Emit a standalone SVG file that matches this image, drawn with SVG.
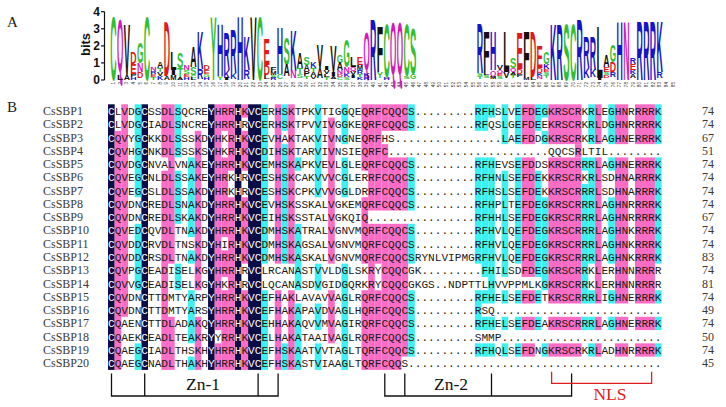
<svg xmlns="http://www.w3.org/2000/svg" width="726" height="407" viewBox="0 0 726 407">
<style>
.lbl{font-family:"Liberation Serif","Times New Roman",serif;fill:#222}
.lg{font-family:"Liberation Sans",Arial,sans-serif;font-weight:bold;font-size:10px}
.g{fill:#2fbf2f}.m{fill:#d616b8}.b{fill:#1414c8}.r{fill:#e01818}.k{fill:#111}
.ax{font-family:"Liberation Sans",Arial,sans-serif;font-weight:bold;fill:#111}
.tk{font-family:"Liberation Sans",Arial,sans-serif;font-size:4.6px;fill:#333}
.n{fill:#0c0c46}.p{fill:#fb6dc4}.c{fill:#3ef0f0}
.seq{font-family:"Liberation Mono","Courier New",monospace;font-size:11.11px;fill:#1a1a1a}
.w{fill:#fff}
.nm{font-family:"Liberation Serif","Times New Roman",serif;font-size:12px;fill:#3a3a3a}
.br{fill:none;stroke:#111;stroke-width:1.3}
.brr{fill:none;stroke:#e02020;stroke-width:1.3}
.big{font-family:"Liberation Serif","Times New Roman",serif;font-size:17.5px}
</style>
<rect width="726" height="407" fill="#fff"/>
<text class="lbl" x="7" y="27" font-size="15">A</text>
<text class="lbl" x="7" y="112" font-size="15">B</text>

<g id="logo-axis">
<line x1="104.5" y1="11.7" x2="104.5" y2="80" stroke="#111" stroke-width="1.2"/>
<line x1="101" y1="11.7" x2="104.5" y2="11.7" stroke="#111" stroke-width="1.2"/>
<line x1="101" y1="28.8" x2="104.5" y2="28.8" stroke="#111" stroke-width="1.2"/>
<line x1="101" y1="45.9" x2="104.5" y2="45.9" stroke="#111" stroke-width="1.2"/>
<line x1="101" y1="62.9" x2="104.5" y2="62.9" stroke="#111" stroke-width="1.2"/>
<line x1="101" y1="80" x2="104.5" y2="80" stroke="#111" stroke-width="1.2"/>
<text class="ax" font-size="12" text-anchor="end" x="100" y="16">4</text>
<text class="ax" font-size="12" text-anchor="end" x="100" y="33">3</text>
<text class="ax" font-size="12" text-anchor="end" x="100" y="50">2</text>
<text class="ax" font-size="12" text-anchor="end" x="100" y="67">1</text>
<text class="ax" font-size="12" text-anchor="end" x="100" y="84">0</text>
<text class="ax" font-size="13" text-anchor="middle" transform="translate(89.5,44.5) rotate(-90)">bits</text>
</g>

<g id="logo-ticks" class="tk" text-anchor="end">
<text transform="translate(115.1,82) rotate(-90)">1</text><text transform="translate(121.76,82) rotate(-90)">2</text><text transform="translate(128.42,82) rotate(-90)">3</text><text transform="translate(135.08,82) rotate(-90)">4</text><text transform="translate(141.74,82) rotate(-90)">5</text><text transform="translate(148.4,82) rotate(-90)">6</text><text transform="translate(155.06,82) rotate(-90)">7</text><text transform="translate(161.72,82) rotate(-90)">8</text><text transform="translate(168.38,82) rotate(-90)">9</text><text transform="translate(175.04,82) rotate(-90)">10</text>
<text transform="translate(181.7,82) rotate(-90)">11</text><text transform="translate(188.36,82) rotate(-90)">12</text><text transform="translate(195.02,82) rotate(-90)">13</text><text transform="translate(201.68,82) rotate(-90)">14</text><text transform="translate(208.34,82) rotate(-90)">15</text><text transform="translate(215,82) rotate(-90)">16</text><text transform="translate(221.66,82) rotate(-90)">17</text><text transform="translate(228.32,82) rotate(-90)">18</text><text transform="translate(234.98,82) rotate(-90)">19</text><text transform="translate(241.64,82) rotate(-90)">20</text>
<text transform="translate(248.3,82) rotate(-90)">21</text><text transform="translate(254.96,82) rotate(-90)">22</text><text transform="translate(261.62,82) rotate(-90)">23</text><text transform="translate(268.28,82) rotate(-90)">24</text><text transform="translate(274.94,82) rotate(-90)">25</text><text transform="translate(281.6,82) rotate(-90)">26</text><text transform="translate(288.26,82) rotate(-90)">27</text><text transform="translate(294.92,82) rotate(-90)">28</text><text transform="translate(301.58,82) rotate(-90)">29</text><text transform="translate(308.24,82) rotate(-90)">30</text>
<text transform="translate(314.9,82) rotate(-90)">31</text><text transform="translate(321.56,82) rotate(-90)">32</text><text transform="translate(328.22,82) rotate(-90)">33</text><text transform="translate(334.88,82) rotate(-90)">34</text><text transform="translate(341.54,82) rotate(-90)">35</text><text transform="translate(348.2,82) rotate(-90)">36</text><text transform="translate(354.86,82) rotate(-90)">37</text><text transform="translate(361.52,82) rotate(-90)">38</text><text transform="translate(368.18,82) rotate(-90)">39</text><text transform="translate(374.84,82) rotate(-90)">40</text>
<text transform="translate(381.5,82) rotate(-90)">41</text><text transform="translate(388.16,82) rotate(-90)">42</text><text transform="translate(394.82,82) rotate(-90)">43</text><text transform="translate(401.48,82) rotate(-90)">44</text><text transform="translate(408.14,82) rotate(-90)">45</text><text transform="translate(414.8,82) rotate(-90)">46</text><text transform="translate(421.46,82) rotate(-90)">47</text><text transform="translate(428.12,82) rotate(-90)">48</text><text transform="translate(434.78,82) rotate(-90)">49</text><text transform="translate(441.44,82) rotate(-90)">50</text>
<text transform="translate(448.1,82) rotate(-90)">51</text><text transform="translate(454.76,82) rotate(-90)">52</text><text transform="translate(461.42,82) rotate(-90)">53</text><text transform="translate(468.08,82) rotate(-90)">54</text><text transform="translate(474.74,82) rotate(-90)">55</text><text transform="translate(481.4,82) rotate(-90)">56</text><text transform="translate(488.06,82) rotate(-90)">57</text><text transform="translate(494.72,82) rotate(-90)">58</text><text transform="translate(501.38,82) rotate(-90)">59</text><text transform="translate(508.04,82) rotate(-90)">60</text>
<text transform="translate(514.7,82) rotate(-90)">61</text><text transform="translate(521.36,82) rotate(-90)">62</text><text transform="translate(528.02,82) rotate(-90)">63</text><text transform="translate(534.68,82) rotate(-90)">64</text><text transform="translate(541.34,82) rotate(-90)">65</text><text transform="translate(548,82) rotate(-90)">66</text><text transform="translate(554.66,82) rotate(-90)">67</text><text transform="translate(561.32,82) rotate(-90)">68</text><text transform="translate(567.98,82) rotate(-90)">69</text><text transform="translate(574.64,82) rotate(-90)">70</text>
<text transform="translate(581.3,82) rotate(-90)">71</text><text transform="translate(587.96,82) rotate(-90)">72</text><text transform="translate(594.62,82) rotate(-90)">73</text><text transform="translate(601.28,82) rotate(-90)">74</text><text transform="translate(607.94,82) rotate(-90)">75</text><text transform="translate(614.6,82) rotate(-90)">76</text><text transform="translate(621.26,82) rotate(-90)">77</text><text transform="translate(627.92,82) rotate(-90)">78</text><text transform="translate(634.58,82) rotate(-90)">79</text><text transform="translate(641.24,82) rotate(-90)">80</text>
<text transform="translate(647.9,82) rotate(-90)">81</text><text transform="translate(654.56,82) rotate(-90)">82</text><text transform="translate(661.22,82) rotate(-90)">83</text><text transform="translate(667.88,82) rotate(-90)">84</text><text transform="translate(674.54,82) rotate(-90)">85</text>
</g>

<g id="logo" class="lg">
<text class="g" textLength="6.3" lengthAdjust="spacingAndGlyphs" transform="translate(110.35,80) scale(1,9.01)">C</text>
<text class="m" textLength="6.3" lengthAdjust="spacingAndGlyphs" transform="translate(117.01,70.6) scale(1,7.35)">Q</text>
<text class="k" textLength="6.3" lengthAdjust="spacingAndGlyphs" transform="translate(117.01,80) scale(1,0.73)">L</text>
<text class="k" textLength="6.3" lengthAdjust="spacingAndGlyphs" transform="translate(123.67,75) scale(1,7.27)">V</text>
<text class="k" textLength="6.3" lengthAdjust="spacingAndGlyphs" transform="translate(123.67,80) scale(1,0.73)">A</text>
<text class="r" textLength="6.3" lengthAdjust="spacingAndGlyphs" transform="translate(130.33,64) scale(1,1.74)">D</text>
<text class="r" textLength="6.3" lengthAdjust="spacingAndGlyphs" transform="translate(130.33,74) scale(1,1.45)">E</text>
<text class="k" textLength="6.3" lengthAdjust="spacingAndGlyphs" transform="translate(130.33,77) scale(1,0.44)">P</text>
<text class="b" textLength="6.3" lengthAdjust="spacingAndGlyphs" transform="translate(130.33,80) scale(1,0.44)">H</text>
<text class="g" textLength="6.3" lengthAdjust="spacingAndGlyphs" transform="translate(136.99,63) scale(1,2.91)">G</text>
<text class="m" textLength="6.3" lengthAdjust="spacingAndGlyphs" transform="translate(136.99,72) scale(1,1.31)">N</text>
<text class="r" textLength="6.3" lengthAdjust="spacingAndGlyphs" transform="translate(136.99,78) scale(1,0.87)">D</text>
<text class="g" textLength="6.3" lengthAdjust="spacingAndGlyphs" transform="translate(143.65,80) scale(1,9.01)">C</text>
<text class="m" textLength="6.3" lengthAdjust="spacingAndGlyphs" transform="translate(150.31,71) scale(1,0.58)">N</text>
<text class="b" textLength="6.3" lengthAdjust="spacingAndGlyphs" transform="translate(150.31,74) scale(1,0.44)">R</text>
<text class="r" textLength="6.3" lengthAdjust="spacingAndGlyphs" transform="translate(150.31,77) scale(1,0.44)">E</text>
<text class="g" textLength="6.3" lengthAdjust="spacingAndGlyphs" transform="translate(150.31,80) scale(1,0.44)">T</text>
<text class="k" textLength="6.3" lengthAdjust="spacingAndGlyphs" transform="translate(156.97,68) scale(1,0.87)">A</text>
<text class="g" textLength="6.3" lengthAdjust="spacingAndGlyphs" transform="translate(156.97,72) scale(1,0.58)">T</text>
<text class="k" textLength="6.3" lengthAdjust="spacingAndGlyphs" transform="translate(156.97,76) scale(1,0.58)">V</text>
<text class="b" textLength="6.3" lengthAdjust="spacingAndGlyphs" transform="translate(156.97,80) scale(1,0.58)">K</text>
<text class="r" textLength="6.3" lengthAdjust="spacingAndGlyphs" transform="translate(163.63,76) scale(1,7.7)">D</text>
<text class="k" textLength="6.3" lengthAdjust="spacingAndGlyphs" transform="translate(163.63,80) scale(1,0.58)">A</text>
<text class="k" textLength="6.3" lengthAdjust="spacingAndGlyphs" transform="translate(170.29,70) scale(1,2.62)">L</text>
<text class="k" textLength="6.3" lengthAdjust="spacingAndGlyphs" transform="translate(170.29,75) scale(1,0.73)">I</text>
<text class="k" textLength="6.3" lengthAdjust="spacingAndGlyphs" transform="translate(170.29,80) scale(1,0.73)">M</text>
<text class="g" textLength="6.3" lengthAdjust="spacingAndGlyphs" transform="translate(176.95,68) scale(1,2.18)">S</text>
<text class="g" textLength="6.3" lengthAdjust="spacingAndGlyphs" transform="translate(176.95,77) scale(1,1.31)">T</text>
<text class="k" textLength="6.3" lengthAdjust="spacingAndGlyphs" transform="translate(176.95,80) scale(1,0.44)">A</text>
<text class="m" textLength="6.3" lengthAdjust="spacingAndGlyphs" transform="translate(183.61,70) scale(1,0.73)">N</text>
<text class="g" textLength="6.3" lengthAdjust="spacingAndGlyphs" transform="translate(183.61,74) scale(1,0.58)">S</text>
<text class="r" textLength="6.3" lengthAdjust="spacingAndGlyphs" transform="translate(183.61,77) scale(1,0.44)">E</text>
<text class="b" textLength="6.3" lengthAdjust="spacingAndGlyphs" transform="translate(183.61,80) scale(1,0.44)">H</text>
<text class="k" textLength="6.3" lengthAdjust="spacingAndGlyphs" transform="translate(190.27,67) scale(1,2.91)">A</text>
<text class="g" textLength="6.3" lengthAdjust="spacingAndGlyphs" transform="translate(190.27,75) scale(1,1.16)">S</text>
<text class="g" textLength="6.3" lengthAdjust="spacingAndGlyphs" transform="translate(190.27,78) scale(1,0.44)">C</text>
<text class="k" textLength="6.3" lengthAdjust="spacingAndGlyphs" transform="translate(190.27,80) scale(1,0.29)">L</text>
<text class="b" textLength="6.3" lengthAdjust="spacingAndGlyphs" transform="translate(196.93,69) scale(1,5.38)">K</text>
<text class="b" textLength="6.3" lengthAdjust="spacingAndGlyphs" transform="translate(196.93,79) scale(1,1.45)">R</text>
<text class="r" textLength="6.3" lengthAdjust="spacingAndGlyphs" transform="translate(203.59,70) scale(1,0.73)">D</text>
<text class="r" textLength="6.3" lengthAdjust="spacingAndGlyphs" transform="translate(203.59,74) scale(1,0.58)">E</text>
<text class="g" textLength="6.3" lengthAdjust="spacingAndGlyphs" transform="translate(203.59,77) scale(1,0.44)">G</text>
<text class="b" textLength="6.3" lengthAdjust="spacingAndGlyphs" transform="translate(203.59,80) scale(1,0.44)">H</text>
<text class="g" textLength="6.3" lengthAdjust="spacingAndGlyphs" transform="translate(210.25,80) scale(1,9.01)">Y</text>
<text class="b" textLength="6.3" lengthAdjust="spacingAndGlyphs" transform="translate(216.91,76) scale(1,7.41)">H</text>
<text class="g" textLength="6.3" lengthAdjust="spacingAndGlyphs" transform="translate(216.91,80) scale(1,0.58)">Y</text>
<text class="b" textLength="6.3" lengthAdjust="spacingAndGlyphs" transform="translate(223.57,70) scale(1,5.38)">R</text>
<text class="b" textLength="6.3" lengthAdjust="spacingAndGlyphs" transform="translate(223.57,78) scale(1,1.16)">K</text>
<text class="k" textLength="6.3" lengthAdjust="spacingAndGlyphs" transform="translate(223.57,80) scale(1,0.29)">I</text>
<text class="b" textLength="6.3" lengthAdjust="spacingAndGlyphs" transform="translate(230.23,73) scale(1,6.25)">R</text>
<text class="b" textLength="6.3" lengthAdjust="spacingAndGlyphs" transform="translate(230.23,79) scale(1,0.87)">K</text>
<text class="b" textLength="6.3" lengthAdjust="spacingAndGlyphs" transform="translate(236.89,80) scale(1,9.01)">H</text>
<text class="b" textLength="6.3" lengthAdjust="spacingAndGlyphs" transform="translate(243.55,70) scale(1,4.8)">K</text>
<text class="b" textLength="6.3" lengthAdjust="spacingAndGlyphs" transform="translate(243.55,79) scale(1,1.31)">R</text>
<text class="k" textLength="6.3" lengthAdjust="spacingAndGlyphs" transform="translate(250.21,80) scale(1,9.01)">V</text>
<text class="g" textLength="6.3" lengthAdjust="spacingAndGlyphs" transform="translate(256.87,80) scale(1,9.01)">C</text>
<text class="r" textLength="6.3" lengthAdjust="spacingAndGlyphs" transform="translate(263.53,65) scale(1,3.63)">E</text>
<text class="r" textLength="6.3" lengthAdjust="spacingAndGlyphs" transform="translate(263.53,75) scale(1,1.45)">D</text>
<text class="k" textLength="6.3" lengthAdjust="spacingAndGlyphs" transform="translate(263.53,79) scale(1,0.58)">L</text>
<text class="k" textLength="6.3" lengthAdjust="spacingAndGlyphs" transform="translate(270.19,71) scale(1,0.58)">F</text>
<text class="k" textLength="6.3" lengthAdjust="spacingAndGlyphs" transform="translate(270.19,75) scale(1,0.58)">M</text>
<text class="g" textLength="6.3" lengthAdjust="spacingAndGlyphs" transform="translate(270.19,78) scale(1,0.44)">S</text>
<text class="b" textLength="6.3" lengthAdjust="spacingAndGlyphs" transform="translate(270.19,80) scale(1,0.29)">R</text>
<text class="b" textLength="6.3" lengthAdjust="spacingAndGlyphs" transform="translate(276.85,74) scale(1,6.69)">H</text>
<text class="g" textLength="6.3" lengthAdjust="spacingAndGlyphs" transform="translate(276.85,79) scale(1,0.73)">C</text>
<text class="g" textLength="6.3" lengthAdjust="spacingAndGlyphs" transform="translate(283.51,65) scale(1,3.92)">S</text>
<text class="k" textLength="6.3" lengthAdjust="spacingAndGlyphs" transform="translate(283.51,76) scale(1,1.6)">A</text>
<text class="b" textLength="6.3" lengthAdjust="spacingAndGlyphs" transform="translate(290.17,71) scale(1,5.67)">K</text>
<text class="m" textLength="6.3" lengthAdjust="spacingAndGlyphs" transform="translate(290.17,78) scale(1,1.02)">N</text>
<text class="k" textLength="6.3" lengthAdjust="spacingAndGlyphs" transform="translate(296.83,68) scale(1,2.18)">A</text>
<text class="g" textLength="6.3" lengthAdjust="spacingAndGlyphs" transform="translate(296.83,74) scale(1,0.87)">T</text>
<text class="g" textLength="6.3" lengthAdjust="spacingAndGlyphs" transform="translate(296.83,78) scale(1,0.58)">S</text>
<text class="g" textLength="6.3" lengthAdjust="spacingAndGlyphs" transform="translate(303.49,65) scale(1,1.02)">S</text>
<text class="k" textLength="6.3" lengthAdjust="spacingAndGlyphs" transform="translate(303.49,71) scale(1,0.87)">A</text>
<text class="k" textLength="6.3" lengthAdjust="spacingAndGlyphs" transform="translate(303.49,76) scale(1,0.73)">P</text>
<text class="g" textLength="6.3" lengthAdjust="spacingAndGlyphs" transform="translate(303.49,79) scale(1,0.44)">T</text>
<text class="b" textLength="6.3" lengthAdjust="spacingAndGlyphs" transform="translate(310.15,68) scale(1,0.87)">K</text>
<text class="g" textLength="6.3" lengthAdjust="spacingAndGlyphs" transform="translate(310.15,72) scale(1,0.58)">T</text>
<text class="k" textLength="6.3" lengthAdjust="spacingAndGlyphs" transform="translate(310.15,76) scale(1,0.58)">A</text>
<text class="k" textLength="6.3" lengthAdjust="spacingAndGlyphs" transform="translate(310.15,79) scale(1,0.44)">V</text>
<text class="k" textLength="6.3" lengthAdjust="spacingAndGlyphs" transform="translate(316.81,68) scale(1,3.34)">V</text>
<text class="k" textLength="6.3" lengthAdjust="spacingAndGlyphs" transform="translate(316.81,78) scale(1,1.45)">A</text>
<text class="k" textLength="6.3" lengthAdjust="spacingAndGlyphs" transform="translate(323.47,70) scale(1,0.58)">I</text>
<text class="k" textLength="6.3" lengthAdjust="spacingAndGlyphs" transform="translate(323.47,74) scale(1,0.58)">V</text>
<text class="k" textLength="6.3" lengthAdjust="spacingAndGlyphs" transform="translate(323.47,77) scale(1,0.44)">L</text>
<text class="g" textLength="6.3" lengthAdjust="spacingAndGlyphs" transform="translate(323.47,80) scale(1,0.44)">T</text>
<text class="k" textLength="6.3" lengthAdjust="spacingAndGlyphs" transform="translate(330.13,72) scale(1,3.63)">V</text>
<text class="k" textLength="6.3" lengthAdjust="spacingAndGlyphs" transform="translate(330.13,76) scale(1,0.58)">I</text>
<text class="k" textLength="6.3" lengthAdjust="spacingAndGlyphs" transform="translate(330.13,79) scale(1,0.44)">A</text>
<text class="g" textLength="6.3" lengthAdjust="spacingAndGlyphs" transform="translate(336.79,63) scale(1,1.16)">G</text>
<text class="k" textLength="6.3" lengthAdjust="spacingAndGlyphs" transform="translate(336.79,70) scale(1,1.02)">A</text>
<text class="m" textLength="6.3" lengthAdjust="spacingAndGlyphs" transform="translate(336.79,74) scale(1,0.58)">N</text>
<text class="r" textLength="6.3" lengthAdjust="spacingAndGlyphs" transform="translate(336.79,77) scale(1,0.44)">D</text>
<text class="g" textLength="6.3" lengthAdjust="spacingAndGlyphs" transform="translate(336.79,80) scale(1,0.44)">C</text>
<text class="g" textLength="6.3" lengthAdjust="spacingAndGlyphs" transform="translate(343.45,67) scale(1,3.92)">G</text>
<text class="m" textLength="6.3" lengthAdjust="spacingAndGlyphs" transform="translate(343.45,73) scale(1,0.87)">N</text>
<text class="b" textLength="6.3" lengthAdjust="spacingAndGlyphs" transform="translate(343.45,77) scale(1,0.58)">K</text>
<text class="g" textLength="6.3" lengthAdjust="spacingAndGlyphs" transform="translate(343.45,80) scale(1,0.44)">S</text>
<text class="k" textLength="6.3" lengthAdjust="spacingAndGlyphs" transform="translate(350.11,67) scale(1,1.45)">L</text>
<text class="m" textLength="6.3" lengthAdjust="spacingAndGlyphs" transform="translate(350.11,70.7) scale(1,0.53)">Q</text>
<text class="k" textLength="6.3" lengthAdjust="spacingAndGlyphs" transform="translate(350.11,75) scale(1,0.58)">V</text>
<text class="k" textLength="6.3" lengthAdjust="spacingAndGlyphs" transform="translate(350.11,78) scale(1,0.44)">I</text>
<text class="r" textLength="6.3" lengthAdjust="spacingAndGlyphs" transform="translate(356.77,65) scale(1,1.02)">E</text>
<text class="k" textLength="6.3" lengthAdjust="spacingAndGlyphs" transform="translate(356.77,70) scale(1,0.73)">M</text>
<text class="b" textLength="6.3" lengthAdjust="spacingAndGlyphs" transform="translate(356.77,74) scale(1,0.58)">R</text>
<text class="g" textLength="6.3" lengthAdjust="spacingAndGlyphs" transform="translate(356.77,77) scale(1,0.44)">T</text>
<text class="b" textLength="6.3" lengthAdjust="spacingAndGlyphs" transform="translate(356.77,80) scale(1,0.44)">K</text>
<text class="m" textLength="6.3" lengthAdjust="spacingAndGlyphs" transform="translate(363.43,69.8) scale(1,5.35)">Q</text>
<text class="b" textLength="6.3" lengthAdjust="spacingAndGlyphs" transform="translate(363.43,77) scale(1,0.58)">K</text>
<text class="b" textLength="6.3" lengthAdjust="spacingAndGlyphs" transform="translate(363.43,80) scale(1,0.44)">R</text>
<text class="b" textLength="6.3" lengthAdjust="spacingAndGlyphs" transform="translate(370.09,80) scale(1,8.72)">R</text>
<text class="k" textLength="6.3" lengthAdjust="spacingAndGlyphs" transform="translate(376.75,72) scale(1,6.4)">F</text>
<text class="g" textLength="6.3" lengthAdjust="spacingAndGlyphs" transform="translate(376.75,78) scale(1,0.87)">Y</text>
<text class="g" textLength="6.3" lengthAdjust="spacingAndGlyphs" transform="translate(383.41,77) scale(1,7.56)">C</text>
<text class="b" textLength="6.3" lengthAdjust="spacingAndGlyphs" transform="translate(383.41,80) scale(1,0.44)">H</text>
<text class="m" textLength="6.3" lengthAdjust="spacingAndGlyphs" transform="translate(390.07,73.6) scale(1,7.35)">Q</text>
<text class="m" textLength="6.3" lengthAdjust="spacingAndGlyphs" transform="translate(396.73,73.5) scale(1,7.49)">Q</text>
<text class="g" textLength="6.3" lengthAdjust="spacingAndGlyphs" transform="translate(403.39,76) scale(1,7.41)">C</text>
<text class="g" textLength="6.3" lengthAdjust="spacingAndGlyphs" transform="translate(403.39,79) scale(1,0.44)">S</text>
<text class="g" textLength="6.3" lengthAdjust="spacingAndGlyphs" transform="translate(410.05,74) scale(1,6.4)">S</text>
<text class="g" textLength="6.3" lengthAdjust="spacingAndGlyphs" transform="translate(410.05,79) scale(1,0.73)">G</text>
<text class="b" textLength="6.3" lengthAdjust="spacingAndGlyphs" transform="translate(476.65,73) scale(1,6.98)">R</text>
<text class="g" textLength="6.3" lengthAdjust="spacingAndGlyphs" transform="translate(476.65,76) scale(1,0.44)">S</text>
<text class="g" textLength="6.3" lengthAdjust="spacingAndGlyphs" transform="translate(476.65,79) scale(1,0.44)">T</text>
<text class="k" textLength="6.3" lengthAdjust="spacingAndGlyphs" transform="translate(483.31,72) scale(1,5.81)">F</text>
<text class="k" textLength="6.3" lengthAdjust="spacingAndGlyphs" transform="translate(483.31,75) scale(1,0.44)">L</text>
<text class="g" textLength="6.3" lengthAdjust="spacingAndGlyphs" transform="translate(483.31,78) scale(1,0.44)">S</text>
<text class="b" textLength="6.3" lengthAdjust="spacingAndGlyphs" transform="translate(489.97,70) scale(1,5.52)">H</text>
<text class="m" textLength="6.3" lengthAdjust="spacingAndGlyphs" transform="translate(489.97,75.5) scale(1,0.8)">Q</text>
<text class="k" textLength="6.3" lengthAdjust="spacingAndGlyphs" transform="translate(489.97,79) scale(1,0.44)">M</text>
<text class="k" textLength="6.3" lengthAdjust="spacingAndGlyphs" transform="translate(496.63,70) scale(1,0.73)">V</text>
<text class="m" textLength="6.3" lengthAdjust="spacingAndGlyphs" transform="translate(496.63,72.8) scale(1,0.4)">Q</text>
<text class="r" textLength="6.3" lengthAdjust="spacingAndGlyphs" transform="translate(496.63,76) scale(1,0.44)">E</text>
<text class="g" textLength="6.3" lengthAdjust="spacingAndGlyphs" transform="translate(496.63,79) scale(1,0.44)">S</text>
<text class="k" textLength="6.3" lengthAdjust="spacingAndGlyphs" transform="translate(503.29,72) scale(1,5.81)">L</text>
<text class="k" textLength="6.3" lengthAdjust="spacingAndGlyphs" transform="translate(503.29,78) scale(1,0.87)">V</text>
<text class="g" textLength="6.3" lengthAdjust="spacingAndGlyphs" transform="translate(509.95,68) scale(1,1.45)">S</text>
<text class="m" textLength="6.3" lengthAdjust="spacingAndGlyphs" transform="translate(509.95,71.7) scale(1,0.53)">Q</text>
<text class="k" textLength="6.3" lengthAdjust="spacingAndGlyphs" transform="translate(509.95,75) scale(1,0.44)">A</text>
<text class="g" textLength="6.3" lengthAdjust="spacingAndGlyphs" transform="translate(509.95,78) scale(1,0.44)">T</text>
<text class="r" textLength="6.3" lengthAdjust="spacingAndGlyphs" transform="translate(516.61,69) scale(1,5.23)">E</text>
<text class="r" textLength="6.3" lengthAdjust="spacingAndGlyphs" transform="translate(516.61,74) scale(1,0.73)">D</text>
<text class="k" textLength="6.3" lengthAdjust="spacingAndGlyphs" transform="translate(516.61,77) scale(1,0.44)">P</text>
<text class="k" textLength="6.3" lengthAdjust="spacingAndGlyphs" transform="translate(523.27,77) scale(1,6.54)">F</text>
<text class="k" textLength="6.3" lengthAdjust="spacingAndGlyphs" transform="translate(523.27,80) scale(1,0.44)">M</text>
<text class="r" textLength="6.3" lengthAdjust="spacingAndGlyphs" transform="translate(529.93,77) scale(1,6.54)">D</text>
<text class="k" textLength="6.3" lengthAdjust="spacingAndGlyphs" transform="translate(529.93,80) scale(1,0.44)">L</text>
<text class="r" textLength="6.3" lengthAdjust="spacingAndGlyphs" transform="translate(536.59,68) scale(1,3.05)">E</text>
<text class="r" textLength="6.3" lengthAdjust="spacingAndGlyphs" transform="translate(536.59,73) scale(1,0.73)">D</text>
<text class="b" textLength="6.3" lengthAdjust="spacingAndGlyphs" transform="translate(536.59,76) scale(1,0.44)">K</text>
<text class="m" textLength="6.3" lengthAdjust="spacingAndGlyphs" transform="translate(536.59,79) scale(1,0.44)">N</text>
<text class="g" textLength="6.3" lengthAdjust="spacingAndGlyphs" transform="translate(543.25,64) scale(1,1.6)">G</text>
<text class="b" textLength="6.3" lengthAdjust="spacingAndGlyphs" transform="translate(543.25,69) scale(1,0.73)">K</text>
<text class="r" textLength="6.3" lengthAdjust="spacingAndGlyphs" transform="translate(543.25,72) scale(1,0.44)">E</text>
<text class="g" textLength="6.3" lengthAdjust="spacingAndGlyphs" transform="translate(543.25,75) scale(1,0.44)">S</text>
<text class="g" textLength="6.3" lengthAdjust="spacingAndGlyphs" transform="translate(543.25,78) scale(1,0.44)">T</text>
<text class="b" textLength="6.3" lengthAdjust="spacingAndGlyphs" transform="translate(549.91,80) scale(1,7.99)">K</text>
<text class="b" textLength="6.3" lengthAdjust="spacingAndGlyphs" transform="translate(556.57,80) scale(1,7.99)">R</text>
<text class="g" textLength="6.3" lengthAdjust="spacingAndGlyphs" transform="translate(563.23,80) scale(1,7.99)">S</text>
<text class="g" textLength="6.3" lengthAdjust="spacingAndGlyphs" transform="translate(569.89,80) scale(1,7.99)">C</text>
<text class="b" textLength="6.3" lengthAdjust="spacingAndGlyphs" transform="translate(576.55,80) scale(1,8.72)">R</text>
<text class="b" textLength="6.3" lengthAdjust="spacingAndGlyphs" transform="translate(583.21,68) scale(1,4.36)">R</text>
<text class="b" textLength="6.3" lengthAdjust="spacingAndGlyphs" transform="translate(583.21,78) scale(1,1.45)">K</text>
<text class="b" textLength="6.3" lengthAdjust="spacingAndGlyphs" transform="translate(589.87,70) scale(1,4.8)">R</text>
<text class="b" textLength="6.3" lengthAdjust="spacingAndGlyphs" transform="translate(589.87,77) scale(1,1.02)">K</text>
<text class="k" textLength="6.3" lengthAdjust="spacingAndGlyphs" transform="translate(596.53,78) scale(1,7.41)">L</text>
<text class="k" textLength="6.3" lengthAdjust="spacingAndGlyphs" transform="translate(596.53,80) scale(1,0.29)">I</text>
<text class="k" textLength="6.3" lengthAdjust="spacingAndGlyphs" transform="translate(603.19,67) scale(1,1.74)">A</text>
<text class="r" textLength="6.3" lengthAdjust="spacingAndGlyphs" transform="translate(603.19,72) scale(1,0.73)">E</text>
<text class="g" textLength="6.3" lengthAdjust="spacingAndGlyphs" transform="translate(603.19,75) scale(1,0.44)">S</text>
<text class="r" textLength="6.3" lengthAdjust="spacingAndGlyphs" transform="translate(603.19,78) scale(1,0.44)">D</text>
<text class="g" textLength="6.3" lengthAdjust="spacingAndGlyphs" transform="translate(609.85,62) scale(1,2.47)">G</text>
<text class="r" textLength="6.3" lengthAdjust="spacingAndGlyphs" transform="translate(609.85,72) scale(1,1.45)">D</text>
<text class="b" textLength="6.3" lengthAdjust="spacingAndGlyphs" transform="translate(609.85,77) scale(1,0.73)">R</text>
<text class="b" textLength="6.3" lengthAdjust="spacingAndGlyphs" transform="translate(616.51,80) scale(1,8.43)">H</text>
<text class="m" textLength="6.3" lengthAdjust="spacingAndGlyphs" transform="translate(623.17,80) scale(1,8.43)">N</text>
<text class="b" textLength="6.3" lengthAdjust="spacingAndGlyphs" transform="translate(629.83,64) scale(1,0.87)">R</text>
<text class="r" textLength="6.3" lengthAdjust="spacingAndGlyphs" transform="translate(629.83,70) scale(1,0.87)">E</text>
<text class="b" textLength="6.3" lengthAdjust="spacingAndGlyphs" transform="translate(629.83,74) scale(1,0.58)">K</text>
<text class="k" textLength="6.3" lengthAdjust="spacingAndGlyphs" transform="translate(629.83,78) scale(1,0.58)">A</text>
<text class="b" textLength="6.3" lengthAdjust="spacingAndGlyphs" transform="translate(636.49,80) scale(1,8.43)">R</text>
<text class="b" textLength="6.3" lengthAdjust="spacingAndGlyphs" transform="translate(643.15,80) scale(1,8.43)">R</text>
<text class="b" textLength="6.3" lengthAdjust="spacingAndGlyphs" transform="translate(649.81,80) scale(1,8.43)">R</text>
<text class="b" textLength="6.3" lengthAdjust="spacingAndGlyphs" transform="translate(656.47,72) scale(1,7.27)">K</text>
<text class="b" textLength="6.3" lengthAdjust="spacingAndGlyphs" transform="translate(656.47,78) scale(1,0.87)">R</text>
</g>

<g id="alignment-shading" transform="translate(108,104.3) scale(6.67,13.28)">
<g class="n">
<rect x="0" y="0" width="1" height="20"/><rect x="5" y="0" width="1" height="20"/><rect x="15" y="0" width="1" height="20"/><rect x="19" y="0" width="1" height="20"/><rect x="21" y="0" width="2" height="20"/>
</g>
<g class="p">
<rect x="1" y="2" width="1" height="18"/>
<rect x="2" y="0" width="1" height="16"/>
<rect x="8" y="0" width="1" height="4"/><rect x="8" y="5" width="1" height="15"/>
<rect x="9" y="0" width="1" height="12"/><rect x="9" y="16" width="1" height="4"/>
<rect x="13" y="2" width="1" height="12"/><rect x="13" y="16" width="1" height="4"/>
<rect x="16" y="0" width="1" height="17"/><rect x="16" y="18" width="1" height="2"/>
<rect x="17" y="0" width="1" height="2"/><rect x="17" y="4" width="1" height="6"/><rect x="17" y="11" width="1" height="2"/><rect x="17" y="14" width="1" height="6"/>
<rect x="18" y="0" width="1" height="5"/><rect x="18" y="7" width="1" height="13"/>
<rect x="20" y="0" width="1" height="1"/><rect x="20" y="2" width="1" height="3"/><rect x="20" y="7" width="1" height="5"/><rect x="20" y="14" width="1" height="6"/>
<rect x="25" y="0" width="1" height="12"/><rect x="25" y="14" width="1" height="6"/>
<rect x="27" y="0" width="1" height="12"/><rect x="27" y="14" width="1" height="6"/>
<rect x="33" y="1" width="1" height="11"/><rect x="33" y="14" width="1" height="4"/>
<rect x="38" y="0" width="1" height="5"/><rect x="38" y="7" width="1" height="5"/><rect x="38" y="14" width="1" height="6"/>
<rect x="39" y="0" width="1" height="8"/><rect x="39" y="9" width="1" height="11"/>
<rect x="40" y="0" width="1" height="8"/><rect x="40" y="9" width="1" height="3"/><rect x="40" y="14" width="1" height="6"/>
<rect x="41" y="0" width="1" height="2"/><rect x="41" y="3" width="1" height="5"/><rect x="41" y="9" width="1" height="11"/>
<rect x="42" y="0" width="2" height="2"/><rect x="42" y="4" width="2" height="4"/><rect x="42" y="9" width="2" height="11"/>
<rect x="44" y="0" width="1" height="2"/><rect x="44" y="4" width="1" height="4"/><rect x="44" y="9" width="1" height="10"/>
<rect x="62" y="0" width="2" height="3"/><rect x="62" y="4" width="2" height="9"/><rect x="62" y="14" width="2" height="1"/><rect x="62" y="16" width="2" height="1"/><rect x="62" y="18" width="2" height="1"/>
<rect x="66" y="0" width="5" height="3"/><rect x="66" y="4" width="5" height="11"/><rect x="70" y="3" width="1" height="1"/><rect x="66" y="16" width="5" height="1"/><rect x="66" y="18" width="5" height="1"/>
<rect x="73" y="0" width="1" height="3"/><rect x="73" y="4" width="1" height="11"/><rect x="73" y="16" width="1" height="1"/><rect x="73" y="18" width="1" height="1"/>
<rect x="76" y="0" width="2" height="3"/><rect x="76" y="4" width="2" height="11"/><rect x="76" y="16" width="2" height="1"/><rect x="76" y="18" width="2" height="1"/>
<rect x="79" y="0" width="3" height="3"/><rect x="79" y="4" width="3" height="11"/><rect x="79" y="16" width="3" height="1"/><rect x="79" y="18" width="3" height="1"/>
</g>
<g class="c">
<rect x="4" y="0" width="1" height="7"/><rect x="4" y="9" width="1" height="5"/><rect x="4" y="18" width="1" height="2"/>
<rect x="10" y="0" width="1" height="4"/><rect x="10" y="5" width="1" height="4"/><rect x="10" y="12" width="1" height="2"/>
<rect x="12" y="4" width="1" height="6"/><rect x="12" y="11" width="1" height="1"/><rect x="12" y="14" width="1" height="4"/><rect x="12" y="19" width="1" height="1"/>
<rect x="23" y="0" width="1" height="12"/><rect x="23" y="14" width="1" height="6"/>
<rect x="26" y="0" width="1" height="2"/><rect x="26" y="3" width="1" height="9"/><rect x="26" y="18" width="1" height="2"/>
<rect x="28" y="4" width="1" height="1"/><rect x="28" y="9" width="1" height="5"/><rect x="28" y="15" width="1" height="5"/>
<rect x="31" y="0" width="1" height="7"/><rect x="31" y="12" width="1" height="2"/><rect x="31" y="15" width="1" height="2"/><rect x="31" y="18" width="1" height="2"/>
<rect x="35" y="0" width="1" height="3"/><rect x="35" y="4" width="1" height="3"/><rect x="35" y="12" width="1" height="8"/>
<rect x="45" y="0" width="1" height="2"/><rect x="45" y="4" width="1" height="4"/><rect x="45" y="9" width="1" height="3"/><rect x="45" y="14" width="1" height="5"/>
<rect x="55" y="0" width="1" height="2"/><rect x="55" y="4" width="1" height="8"/><rect x="55" y="14" width="1" height="3"/><rect x="55" y="18" width="1" height="1"/>
<rect x="56" y="0" width="1" height="2"/><rect x="56" y="4" width="1" height="9"/><rect x="56" y="14" width="1" height="1"/><rect x="56" y="16" width="1" height="1"/><rect x="56" y="18" width="1" height="1"/>
<rect x="57" y="0" width="1" height="1"/><rect x="57" y="4" width="1" height="11"/><rect x="57" y="16" width="1" height="1"/><rect x="57" y="18" width="1" height="1"/>
<rect x="59" y="0" width="1" height="3"/><rect x="59" y="5" width="1" height="8"/><rect x="59" y="14" width="1" height="1"/><rect x="59" y="16" width="1" height="1"/><rect x="59" y="18" width="1" height="1"/>
<rect x="61" y="0" width="1" height="3"/><rect x="61" y="4" width="1" height="8"/><rect x="61" y="14" width="1" height="1"/><rect x="61" y="16" width="1" height="1"/><rect x="61" y="18" width="1" height="1"/>
<rect x="64" y="0" width="1" height="2"/><rect x="64" y="5" width="1" height="8"/><rect x="64" y="14" width="1" height="1"/><rect x="64" y="16" width="1" height="1"/>
<rect x="65" y="0" width="1" height="1"/><rect x="65" y="2" width="1" height="1"/><rect x="65" y="7" width="1" height="7"/><rect x="65" y="18" width="1" height="1"/>
<rect x="71" y="4" width="1" height="1"/><rect x="71" y="6" width="1" height="9"/><rect x="71" y="16" width="1" height="1"/>
<rect x="72" y="0" width="1" height="3"/><rect x="72" y="4" width="1" height="8"/><rect x="72" y="14" width="1" height="1"/><rect x="72" y="16" width="1" height="1"/><rect x="72" y="18" width="1" height="1"/>
<rect x="75" y="0" width="1" height="3"/><rect x="75" y="4" width="1" height="1"/><rect x="75" y="7" width="1" height="5"/><rect x="75" y="14" width="1" height="1"/><rect x="75" y="16" width="1" height="1"/>
<rect x="82" y="0" width="1" height="3"/><rect x="82" y="4" width="1" height="8"/><rect x="82" y="14" width="1" height="1"/><rect x="82" y="16" width="1" height="1"/><rect x="82" y="18" width="1" height="1"/>
</g>
</g>

<g id="alignment-text" class="seq">
<text x="108" y="114.94"><tspan class="w">C</tspan>LVDG<tspan class="w">C</tspan>SSDLSQCRE<tspan class="w">Y</tspan>HRR<tspan class="w">H</tspan>K<tspan class="w">VC</tspan>ERHSKTPKVTIGGQEQRFCQQCS.........RFHSLVEFDEGKRSCRKRLEGHNRRRRK</text>
<text x="108" y="128.22"><tspan class="w">C</tspan>LVDG<tspan class="w">C</tspan>IADLSNCRE<tspan class="w">Y</tspan>HRR<tspan class="w">H</tspan>R<tspan class="w">VC</tspan>ERHSKTPVVIVGGKEQRFCQQCS.........RFQSLGEFDEEKRSCRKRLDGHNRRRRK</text>
<text x="108" y="141.5"><tspan class="w">C</tspan>QVYG<tspan class="w">C</tspan>KKDLSSSKD<tspan class="w">Y</tspan>HKR<tspan class="w">H</tspan>K<tspan class="w">VC</tspan>EVHAKTAKVIVNGNEQRFHS................LAEFDDGKRSCRKRLAGHNERRRK</text>
<text x="108" y="154.78"><tspan class="w">C</tspan>QVHG<tspan class="w">C</tspan>NKDLSSSKS<tspan class="w">Y</tspan>HKR<tspan class="w">H</tspan>K<tspan class="w">VC</tspan>DIHSKTARVIVNSIEQRFC........................QQCSRLTIL........</text>
<text x="108" y="168.06"><tspan class="w">C</tspan>QVDG<tspan class="w">C</tspan>NVALVNAKE<tspan class="w">Y</tspan>HRR<tspan class="w">H</tspan>K<tspan class="w">VC</tspan>EMHSKAPKVEVLGLEQRFCQQCS.........RFHEVSEFDDSKRSCRRRLAGHNERRRK</text>
<text x="108" y="181.34"><tspan class="w">C</tspan>QVEG<tspan class="w">C</tspan>NLDLSSAKE<tspan class="w">Y</tspan>HRK<tspan class="w">H</tspan>R<tspan class="w">VC</tspan>ESHSKCAKVVVCGLERRFCQQCS.........RFHNLSEFDEKKRSCRKRLSDHNARRRK</text>
<text x="108" y="194.62"><tspan class="w">C</tspan>QVEG<tspan class="w">C</tspan>SLDLSSAKD<tspan class="w">Y</tspan>HRK<tspan class="w">H</tspan>R<tspan class="w">VC</tspan>ESHSKCPKVVVGGLDRRFCQQCS.........RFHSLSEFDEKKRSCRRRLSDHNARRRK</text>
<text x="108" y="207.9"><tspan class="w">C</tspan>QVDN<tspan class="w">C</tspan>REDLSNAKD<tspan class="w">Y</tspan>HRR<tspan class="w">H</tspan>K<tspan class="w">VC</tspan>EVHSKSSKALVGKEMQRFCQQCS.........RFHPLTEFDEGKRSCRRRLAGHNRRRRK</text>
<text x="108" y="221.18"><tspan class="w">C</tspan>QVDN<tspan class="w">C</tspan>REDLSKAKD<tspan class="w">Y</tspan>HRR<tspan class="w">H</tspan>K<tspan class="w">VC</tspan>EIHSKSSTALVGKQIQ................RFHHLSEFDEGKRSCRRRLAGHNRRRRK</text>
<text x="108" y="234.46"><tspan class="w">C</tspan>QVED<tspan class="w">C</tspan>QVDLTNAKD<tspan class="w">Y</tspan>HRR<tspan class="w">H</tspan>K<tspan class="w">VC</tspan>DMHSKATRALVGNVMQRFCQQCS.........RFHVLQEFDEGKRSCRRRLAGHNKRRRK</text>
<text x="108" y="247.74"><tspan class="w">C</tspan>QVDD<tspan class="w">C</tspan>RVDLTNSKD<tspan class="w">Y</tspan>HIR<tspan class="w">H</tspan>K<tspan class="w">VC</tspan>DMHSKAGSALVGNVMQRFCQQCS.........RFHVLQEFDEGKRSCRRRLAGHNKRRRK</text>
<text x="108" y="261.02"><tspan class="w">C</tspan>QVDD<tspan class="w">C</tspan>RSDLTNAKD<tspan class="w">Y</tspan>HRR<tspan class="w">H</tspan>K<tspan class="w">VC</tspan>DMHSKASKALVGNVMQRFCQQCSRYNLVIPMGRFHVLQEFDEGKRSCRRRLAGHNKRRRK</text>
<text x="108" y="274.3"><tspan class="w">C</tspan>QVPG<tspan class="w">C</tspan>EADISELKG<tspan class="w">Y</tspan>HRR<tspan class="w">H</tspan>R<tspan class="w">VC</tspan>LRCANASTVVLDGLSKRYCQQCGK.........FHILSDFDEGKRSCRRKLERHNNRRRR</text>
<text x="108" y="287.58"><tspan class="w">C</tspan>QVVG<tspan class="w">C</tspan>EADISELKG<tspan class="w">Y</tspan>HKR<tspan class="w">H</tspan>R<tspan class="w">VC</tspan>LQCANASDVGIDGQRKRYCQQCGKGS..NDPTTLHVVPPMLKGKRSCRRKLERHNNRRRR</text>
<text x="108" y="300.86"><tspan class="w">C</tspan>QVDN<tspan class="w">C</tspan>TTDMTYARP<tspan class="w">Y</tspan>HRR<tspan class="w">H</tspan>K<tspan class="w">VC</tspan>EFHAKLAVAVVAGLRQRFCQQCS.........RFHELSEFDETKRSCRRRLIGHNERRRK</text>
<text x="108" y="314.14"><tspan class="w">C</tspan>QVDN<tspan class="w">C</tspan>TTDMTYARS<tspan class="w">Y</tspan>HRR<tspan class="w">H</tspan>K<tspan class="w">VC</tspan>EFHAKAPAVDVAGLHQRFCQQCS.........RSQ.........................</text>
<text x="108" y="327.42"><tspan class="w">C</tspan>QAEN<tspan class="w">C</tspan>TTDLADAKQ<tspan class="w">Y</tspan>HRR<tspan class="w">H</tspan>K<tspan class="w">VC</tspan>EHHAKAQVVMVAGIRQRFCQQCS.........RFHELSEFDEAKRSCRRRLAGHNERRRK</text>
<text x="108" y="340.7"><tspan class="w">C</tspan>QAEK<tspan class="w">C</tspan>EADLTEAKR<tspan class="w">Y</tspan>YRR<tspan class="w">H</tspan>K<tspan class="w">VC</tspan>ELHAKATAAIVAGLRQRFCQQCS.........SMMP........................</text>
<text x="108" y="353.98"><tspan class="w">C</tspan>QAEG<tspan class="w">C</tspan>IADLTHSKH<tspan class="w">Y</tspan>HRR<tspan class="w">H</tspan>K<tspan class="w">VC</tspan>EFHSKAATVVTAGLTQRFCQQCS.........RFHQLSEFDNGKRSCRKRLADHNRRRRK</text>
<text x="108" y="367.26"><tspan class="w">C</tspan>QAEG<tspan class="w">C</tspan>NADLTHAKH<tspan class="w">Y</tspan>HRR<tspan class="w">H</tspan>K<tspan class="w">VC</tspan>EFHSKASTVIAAGLTQRFCQQS......................................</text>
</g>

<g id="names" class="nm">
<text x="43" y="114.94">CsSBP1</text><text x="43" y="128.22">CsSBP2</text><text x="43" y="141.5">CsSBP3</text><text x="43" y="154.78">CsSBP4</text><text x="43" y="168.06">CsSBP5</text>
<text x="43" y="181.34">CsSBP6</text><text x="43" y="194.62">CsSBP7</text><text x="43" y="207.9">CsSBP8</text><text x="43" y="221.18">CsSBP9</text><text x="43" y="234.46">CsSBP10</text>
<text x="43" y="247.74">CsSBP11</text><text x="43" y="261.02">CsSBP12</text><text x="43" y="274.3">CsSBP13</text><text x="43" y="287.58">CsSBP14</text><text x="43" y="300.86">CsSBP15</text>
<text x="43" y="314.14">CsSBP16</text><text x="43" y="327.42">CsSBP17</text><text x="43" y="340.7">CsSBP18</text><text x="43" y="353.98">CsSBP19</text><text x="43" y="367.26">CsSBP20</text>
</g>
<g id="lengths" class="nm">
<text x="702" y="114.94">74</text><text x="702" y="128.22">74</text><text x="702" y="141.5">67</text><text x="702" y="154.78">51</text><text x="702" y="168.06">74</text>
<text x="702" y="181.34">74</text><text x="702" y="194.62">74</text><text x="702" y="207.9">74</text><text x="702" y="221.18">67</text><text x="702" y="234.46">74</text>
<text x="702" y="247.74">74</text><text x="702" y="261.02">83</text><text x="702" y="274.3">74</text><text x="702" y="287.58">81</text><text x="702" y="300.86">74</text>
<text x="702" y="314.14">49</text><text x="702" y="327.42">74</text><text x="702" y="340.7">50</text><text x="702" y="353.98">74</text><text x="702" y="367.26">45</text>
</g>

<g id="zn1">
<path class="br" d="M111.5,373.5V396H278.1V373.5M144.7,373.5V396M258.1,373.5V396"/>
<text class="big" x="203" y="390" text-anchor="middle" fill="#111">Zn-1</text>
</g>
<g id="zn2">
<path class="br" d="M384.8,373.5V396H571.6V373.5M404.8,373.5V396M491.5,373.5V396"/>
<text class="big" x="451" y="390" text-anchor="middle" fill="#111">Zn-2</text>
</g>
<g id="nls">
<path class="brr" d="M551.6,371.7V383.3H651.6V371.7"/>
<text class="big" x="610" y="400" text-anchor="middle" fill="#e02020">NLS</text>
</g>
</svg>
